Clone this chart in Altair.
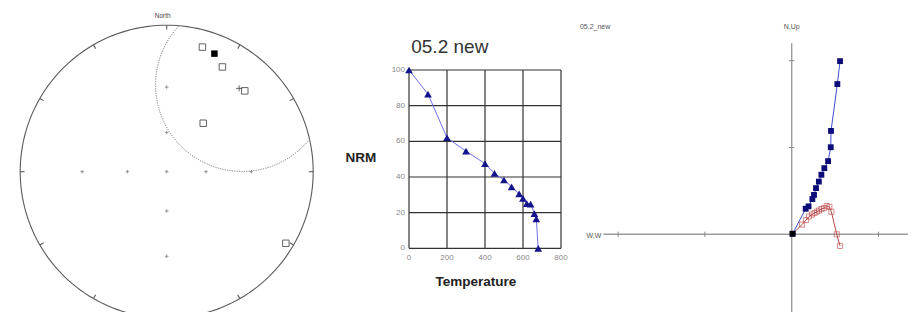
import math
import numpy as np
import pandas as pd
import altair as alt

# ---------------- data ----------------
# Stereonet (equal-angle projection): step directions
ster_dec = [16, 22, 28, 44, 37, 121]
ster_inc = [7, 8, 12, 15, 45, 3]
ster_filled = [False, True, False, False, False, False]
mean_dec = [41]
mean_inc = [16]
cone_dec = 41
cone_inc = 25
cone_radius = 43
net_tick_azimuths = [0, 30, 60, 90, 120, 150, 180, 210, 240, 270, 300, 330]
net_cross_azimuths = [0, 90, 180, 270]
net_cross_incs = [30, 60]

# Thermal demagnetisation curve
demag_temp = [0, 100, 200, 300, 400, 450, 500, 540, 580, 600, 620, 640, 660, 670, 680]
demag_nrm = [100, 86.5, 62, 54.5, 47.5, 42, 38.3, 34.5, 30.5, 28, 25, 24.8, 19.5, 16.5, 0]
temp_ticks = [0, 200, 400, 600, 800]
nrm_ticks = [0, 20, 40, 60, 80, 100]

# Zijderveld diagram (horizontal = blue, vertical = red)
zij_h_x = [0.557, 0.526, 0.453, 0.450, 0.419, 0.376, 0.342, 0.313, 0.280, 0.257, 0.238, 0.194, 0.161, 0.01]
zij_h_y = [1.995, 1.731, 1.191, 1.003, 0.843, 0.762, 0.686, 0.607, 0.532, 0.454, 0.406, 0.322, 0.294, 0.006]
zij_v_x = [0.557, 0.519, 0.457, 0.434, 0.404, 0.373, 0.344, 0.315, 0.292, 0.263, 0.234, 0.200, 0.165, 0.120, 0.01]
zij_v_y = [-0.134, 0.0, 0.260, 0.317, 0.325, 0.302, 0.291, 0.274, 0.262, 0.245, 0.228, 0.205, 0.164, 0.112, 0.006]
zij_ticks_x = [-2, -1, 1]
zij_ticks_y = [1, 2]
zij_axis_x = [-2.17, 1.44]
zij_axis_y = [-0.99, 2.2]

# ---------------- layout ----------------
W, H = 900, 304
FONT = "Liberation Sans"

net_cx, net_cy, net_R = 158.7, 163.7, 146.5
dm_x0, dm_kx, dm_y0, dm_ky = 401.0, 152 / 800, 240.3, 178.3 / 100
zj_x0, zj_y0, zj_u = 783.7, 226.3, 86.8

def lin(v0, k, size, flip=False):
    if flip:
        return alt.Scale(domain=[(v0 - size) / k, v0 / k], nice=False, zero=False)
    return alt.Scale(domain=[-v0 / k, (size - v0) / k], nice=False, zero=False)

sx1, sy1 = lin(net_cx, net_R, W), lin(net_cy, net_R, H, True)
sx2, sy2 = lin(dm_x0, dm_kx, W), lin(dm_y0, dm_ky, H, True)
sx3, sy3 = lin(zj_x0, zj_u, W), lin(zj_y0, zj_u, H, True)

def xy(sx, sy, xf="x", yf="y"):
    return dict(x=alt.X(xf, type="quantitative", scale=sx, axis=None),
                y=alt.Y(yf, type="quantitative", scale=sy, axis=None))

def rule_enc(sx, sy):
    d = xy(sx, sy)
    d.update(x2=alt.X2("x2"), y2=alt.Y2("y2"))
    return d

def proj(dec, inc):
    r = math.tan(math.radians(90 - inc) / 2)
    return r * math.sin(math.radians(dec)), r * math.cos(math.radians(dec))

CROSS = "M-1,0L1,0M0,-1L0,1"

# ---------------- stereonet ----------------
prim = pd.DataFrame([dict(x=math.sin(math.radians(t)), y=math.cos(math.radians(t)), o=t)
                     for t in range(0, 361, 2)])
ticks = pd.DataFrame([dict(x=math.sin(math.radians(a)), y=math.cos(math.radians(a)),
                           x2=0.97 * math.sin(math.radians(a)), y2=0.97 * math.cos(math.radians(a)))
                      for a in net_tick_azimuths])
cr = [dict(x=0.0, y=0.0)]
for a in net_cross_azimuths:
    for i in net_cross_incs:
        px, py = proj(a, i)
        cr.append(dict(x=px, y=py))
crosses = pd.DataFrame(cr)

def small_circle(dec, inc, alpha, n=721):
    d, i, a = map(math.radians, (dec, inc, alpha))
    c = np.array([math.cos(i) * math.cos(d), math.cos(i) * math.sin(d), math.sin(i)])
    up = np.array([0.0, 0.0, -1.0])
    u = up - up.dot(c) * c
    u /= np.linalg.norm(u)
    v = np.cross(c, u)
    rows = []
    for k in range(n):
        t = 2 * math.pi * k / (n - 1)
        p = math.cos(a) * c + math.sin(a) * (math.cos(t) * u + math.sin(t) * v)
        if p[2] >= 0:
            ip = math.degrees(math.asin(min(1.0, p[2])))
            dp = math.degrees(math.atan2(p[1], p[0]))
            px, py = proj(dp, ip)
            rows.append(dict(x=px, y=py, o=k))
    return pd.DataFrame(rows)

cone = small_circle(cone_dec, cone_inc, cone_radius)
pts = pd.DataFrame([dict(x=proj(d, i)[0], y=proj(d, i)[1], f=f)
                    for d, i, f in zip(ster_dec, ster_inc, ster_filled)])
mean = pd.DataFrame([dict(x=proj(d, i)[0], y=proj(d, i)[1]) for d, i in zip(mean_dec, mean_inc)])
north = pd.DataFrame(dict(x=[0.0], y=[1.0], t=["North"]))

net = alt.layer(
    alt.Chart(prim).mark_line(color="#5a5a5a", strokeWidth=1.1, clip=True).encode(**xy(sx1, sy1), order="o:Q"),
    alt.Chart(ticks).mark_rule(color="#5a5a5a", strokeWidth=1.1, clip=True).encode(**rule_enc(sx1, sy1)),
    alt.Chart(crosses).mark_point(shape=CROSS, filled=False, color="#666", strokeWidth=1, size=12).encode(**xy(sx1, sy1)),
    alt.Chart(cone).mark_line(color="#777", strokeWidth=1, strokeDash=[1.2, 1.2]).encode(**xy(sx1, sy1), order="o:Q"),
    alt.Chart(pts[~pts.f]).mark_point(shape="square", filled=False, color="#222", strokeWidth=1, size=42).encode(**xy(sx1, sy1)),
    alt.Chart(pts[pts.f]).mark_point(shape="square", filled=True, color="#000", opacity=1, size=42).encode(**xy(sx1, sy1)),
    alt.Chart(mean).mark_point(shape=CROSS, filled=False, color="#222", strokeWidth=1, size=36).encode(**xy(sx1, sy1)),
    alt.Chart(north).mark_text(font=FONT, fontSize=6.5, color="#444", dx=-4, dy=-9).encode(**xy(sx1, sy1), text="t"),
)

# ---------------- demag curve ----------------
vgrid = pd.DataFrame(dict(x=temp_ticks, x2=temp_ticks, y=[0] * len(temp_ticks), y2=[100] * len(temp_ticks)))
hgrid = pd.DataFrame(dict(x=[0] * len(nrm_ticks), x2=[800] * len(nrm_ticks), y=nrm_ticks, y2=nrm_ticks))
demag = pd.DataFrame(dict(x=demag_temp, y=demag_nrm))
xlab = pd.DataFrame(dict(x=temp_ticks, y=[0] * len(temp_ticks), t=[str(v) for v in temp_ticks]))
ylab = pd.DataFrame(dict(x=[0] * len(nrm_ticks), y=nrm_ticks, t=[str(v) for v in nrm_ticks]))
lbl = pd.DataFrame(dict(t=["05.2 new", "NRM", "Temperature"]))

dm = alt.layer(
    alt.Chart(vgrid).mark_rule(color="#333", strokeWidth=1.2).encode(**rule_enc(sx2, sy2)),
    alt.Chart(hgrid).mark_rule(color="#333", strokeWidth=1.2).encode(**rule_enc(sx2, sy2)),
    alt.Chart(demag).mark_line(color="#7070ea", strokeWidth=1).encode(**xy(sx2, sy2)),
    alt.Chart(demag).mark_point(shape="triangle-up", filled=True, color="#14148c", opacity=1, size=60).encode(**xy(sx2, sy2)),
    alt.Chart(xlab).mark_text(font=FONT, fontSize=8, color="#888", dy=10).encode(**xy(sx2, sy2), text="t"),
    alt.Chart(ylab).mark_text(font=FONT, fontSize=8, color="#888", align="right", dx=-4).encode(**xy(sx2, sy2), text="t"),
    alt.Chart(lbl[lbl.t == "05.2 new"]).mark_text(font=FONT, fontSize=19, color="#333").encode(
        x=alt.value(441.8), y=alt.value(38.5), text="t"),
    alt.Chart(lbl[lbl.t == "NRM"]).mark_text(font=FONT, fontSize=13.5, fontWeight="bold", color="#222").encode(
        x=alt.value(352.8), y=alt.value(150.3), text="t"),
    alt.Chart(lbl[lbl.t == "Temperature"]).mark_text(font=FONT, fontSize=13.5, fontWeight="bold", color="#222").encode(
        x=alt.value(467.8), y=alt.value(273.7), text="t"),
)

# ---------------- Zijderveld ----------------
axes = pd.DataFrame([dict(x=zij_axis_x[0], x2=zij_axis_x[1], y=0.0, y2=0.0),
                     dict(x=0.0, x2=0.0, y=zij_axis_y[0], y2=zij_axis_y[1])])
tk = pd.DataFrame([dict(x=v, x2=v, y=-0.03, y2=0.03) for v in zij_ticks_x] +
                  [dict(x=-0.03, x2=0.03, y=v, y2=v) for v in zij_ticks_y])
hz = pd.DataFrame(dict(x=zij_h_x, y=zij_h_y, o=range(len(zij_h_x))))
vt = pd.DataFrame(dict(x=zij_v_x, y=zij_v_y, o=range(len(zij_v_x))))
origin = pd.DataFrame(dict(x=[zij_h_x[-1]], y=[zij_h_y[-1]]))
zl = pd.DataFrame([dict(x=-2.44, y=zij_axis_y[1], t="05.2_new", a="left"),
                   dict(x=0.0, y=zij_axis_y[1], t="N,Up", a="center")])
wl = pd.DataFrame([dict(x=zij_axis_x[0], y=0.0, t="W,W")])

zj = alt.layer(
    alt.Chart(axes).mark_rule(color="#9c9c9c", strokeWidth=1.4, clip=True).encode(**rule_enc(sx3, sy3)),
    alt.Chart(tk).mark_rule(color="#888", strokeWidth=1).encode(**rule_enc(sx3, sy3)),
    alt.Chart(vt).mark_line(color="#b04a4a", strokeWidth=1).encode(**xy(sx3, sy3), order="o:Q"),
    alt.Chart(vt).mark_point(shape="square", filled=False, color="#c04848", strokeWidth=0.9, size=26).encode(**xy(sx3, sy3)),
    alt.Chart(hz).mark_line(color="#3f4fcf", strokeWidth=1).encode(**xy(sx3, sy3), order="o:Q"),
    alt.Chart(hz).mark_point(shape="square", filled=True, color="#0c0c78", opacity=1, size=34).encode(**xy(sx3, sy3)),
    alt.Chart(origin).mark_point(shape="square", filled=True, color="#000", opacity=1, size=30).encode(**xy(sx3, sy3)),
    alt.Chart(zl[zl.a == "left"]).mark_text(font=FONT, fontSize=7, color="#555", align="left", dy=-16).encode(**xy(sx3, sy3), text="t"),
    alt.Chart(zl[zl.a == "center"]).mark_text(font=FONT, fontSize=7, color="#555", dy=-16).encode(**xy(sx3, sy3), text="t"),
    alt.Chart(wl).mark_text(font=FONT, fontSize=7, color="#555", align="right", dx=-2, dy=2).encode(**xy(sx3, sy3), text="t"),
)

chart = alt.layer(net, dm, zj).resolve_scale(x="independent", y="independent").properties(
    width=W, height=H, padding=0, background="white"
).configure_view(stroke=None)

chart.save("out.html", embed_options={"renderer": "svg", "actions": False})
